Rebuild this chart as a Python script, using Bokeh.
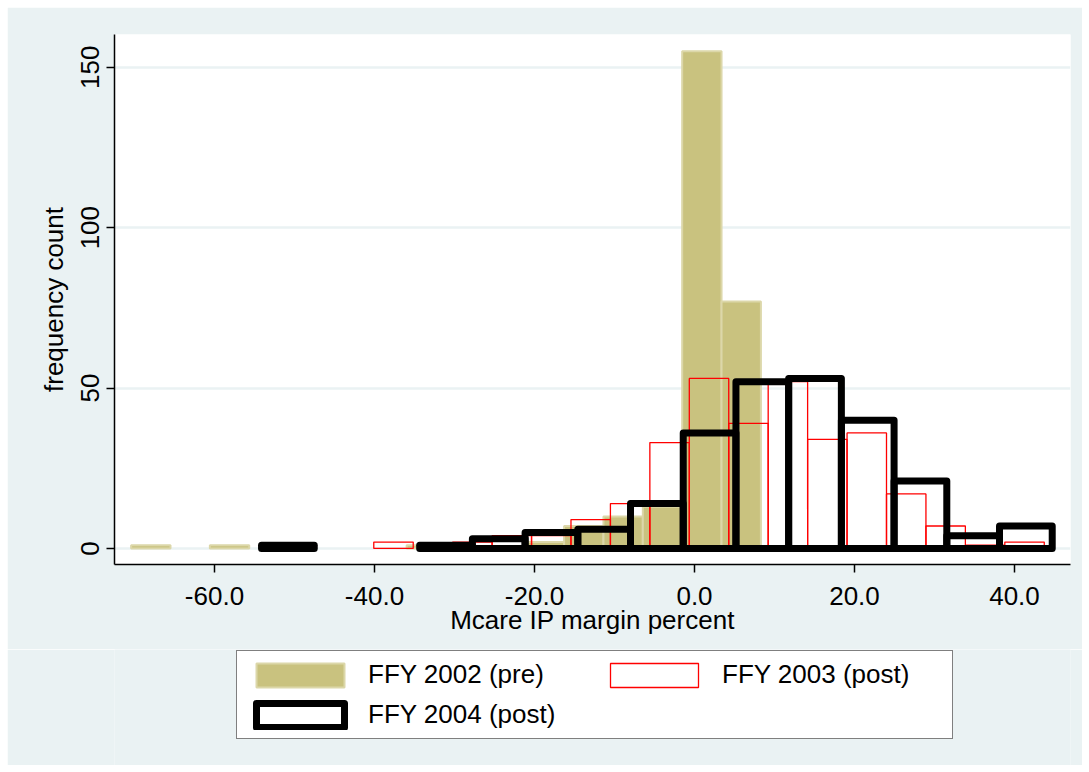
from bokeh.plotting import figure
from bokeh.layouts import column
from bokeh.models import (FixedTicker, PrintfTickFormatter, Legend, LegendItem,
                          ColumnDataSource, Range1d)
from bokeh.embed import file_html
from bokeh.resources import INLINE

# ---------------- data ----------------
x_ticks = [-60, -40, -20, 0, 20, 40]
y_ticks = [0, 50, 100, 150]

fy2002_start = -70.42
fy2002_width = 4.92
fy2002_counts = [1, 0, 1, 0, 0, 0, 0, 1, 0, 0, 2, 7, 10, 13, 155, 77]

fy2003_start = -40.09
fy2003_width = 4.93
fy2003_counts = [2, 0, 2, 4, 4, 9, 14, 33, 53, 39, 52, 34, 36, 17, 7, 1, 2]

fy2004_start = -54.12
fy2004_width = 6.589
fy2004_counts = [1, 0, 0, 1, 3, 5, 6, 14, 36, 52, 53, 40, 21, 4, 7]

series_labels = ["FFY 2002 (pre)", "FFY 2003 (post)", "FFY 2004 (post)"]
x_title = "Mcare IP margin percent"
y_title = "frequency count"


def hist_source(start, width, counts):
    left, right, top = [], [], []
    for i, c in enumerate(counts):
        if c > 0:
            left.append(start + i * width)
            right.append(start + (i + 1) * width)
            top.append(c)
    return ColumnDataSource(dict(left=left, right=right, top=top,
                                 bottom=[0] * len(top)))


FONT = "Liberation Sans"
BG = "#EAF2F3"
STYLES = [dict(fill_color="#C9C27F", line_color="#DCD7A9", line_width=2),
          dict(fill_color=None, line_color="#FF0000", line_width=1.3),
          dict(fill_color=None, line_color="black", line_width=7,
               line_join="round")]

p = figure(frame_width=956, frame_height=530, output_backend="svg",
           toolbar_location=None,
           x_range=Range1d(-72.5, 47.0), y_range=Range1d(-5.0, 160.2),
           min_border_left=107, min_border_right=12, min_border_top=27,
           min_border_bottom=85)
p.background_fill_color = "white"
p.border_fill_color = BG
p.outline_line_color = None

for (start, width, counts), st in zip(
        [(fy2002_start, fy2002_width, fy2002_counts),
         (fy2003_start, fy2003_width, fy2003_counts),
         (fy2004_start, fy2004_width, fy2004_counts)], STYLES):
    p.quad(left="left", right="right", top="top", bottom="bottom",
           source=hist_source(start, width, counts), **st)

# axes
for ax in (p.xaxis[0], p.yaxis[0]):
    ax.axis_line_color = "black"
    ax.axis_line_width = 1.5
    ax.major_tick_line_color = "black"
    ax.major_tick_line_width = 1.5
    ax.major_tick_out = 8
    ax.major_tick_in = 0
    ax.minor_tick_line_color = None
    ax.major_label_text_font = FONT
    ax.major_label_text_font_size = "26px"
    ax.major_label_text_color = "black"
    ax.axis_label_text_font = FONT
    ax.axis_label_text_font_size = "26px"
    ax.axis_label_text_font_style = "normal"
    ax.axis_label_text_color = "black"

p.xaxis.ticker = FixedTicker(ticks=x_ticks)
p.xaxis.formatter = PrintfTickFormatter(format="%.1f")
p.xaxis.axis_label = x_title
p.xaxis.major_label_standoff = 14
p.xaxis.axis_label_standoff = -3

p.yaxis.ticker = FixedTicker(ticks=y_ticks)
p.yaxis.major_label_orientation = "vertical"
p.yaxis.axis_label = y_title
p.yaxis.major_label_standoff = 7
p.yaxis.axis_label_standoff = 10

p.xgrid.visible = False
p.ygrid.grid_line_color = BG
p.ygrid.grid_line_width = 2.5

# ---------------- legend panel ----------------
lf = figure(width=1075, height=116, output_backend="svg",
            toolbar_location=None, x_axis_type=None, y_axis_type=None,
            x_range=Range1d(0, 1), y_range=Range1d(0, 1),
            min_border=0)
lf.background_fill_color = BG
lf.border_fill_color = BG
lf.outline_line_color = None
lf.grid.visible = False

# legend key renderers (kept outside the visible range of this panel)
key = dict(left=[-3], right=[-2], top=[-2], bottom=[-3])
lr = [lf.quad(left="left", right="right", top="top", bottom="bottom",
              source=ColumnDataSource(key), **st) for st in STYLES]

legend = Legend(items=[LegendItem(label=lab, renderers=[r])
                       for lab, r in zip(series_labels, lr)],
                orientation="horizontal", ncols=2, location=(122, 26))
legend.glyph_width = 110
legend.glyph_height = 30
legend.label_standoff = 13
legend.label_width = 222
legend.label_text_font = FONT
legend.label_text_font_size = "26px"
legend.label_text_color = "black"
legend.padding = 8
legend.spacing = 9
legend.margin = 0
legend.border_line_color = "black"
legend.border_line_width = 1
legend.background_fill_color = "white"
legend.background_fill_alpha = 1.0
lf.add_layout(legend, "center")

layout = column(p, lf, spacing=0, margin=(7, 7, 7, 7))

open("out.html", "w").write(file_html(layout, INLINE))
